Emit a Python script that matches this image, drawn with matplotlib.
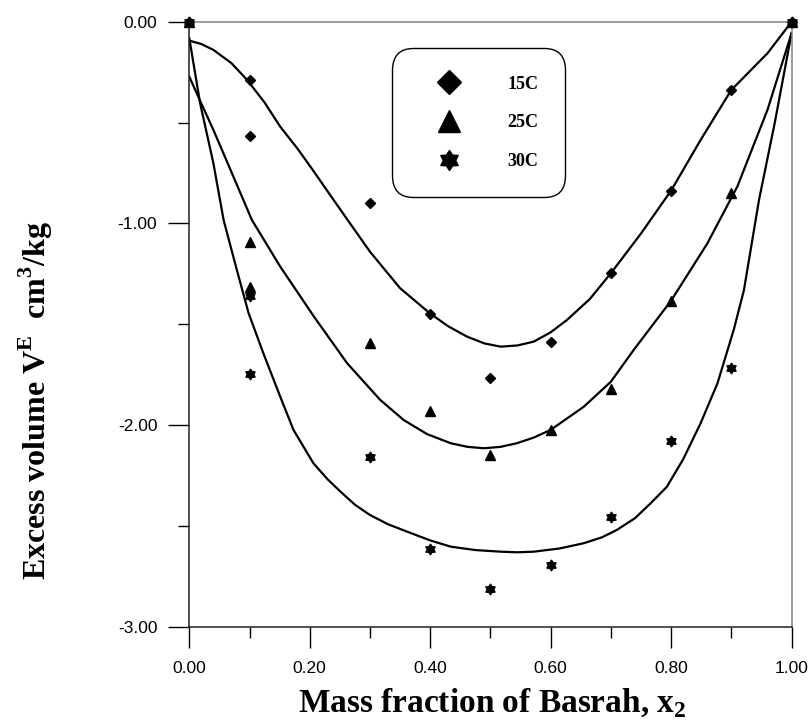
import numpy as np
import matplotlib
matplotlib.use("Agg")
import matplotlib.pyplot as plt
from matplotlib.path import Path
from matplotlib.lines import Line2D

plt.rcParams['mathtext.fontset'] = 'custom'
plt.rcParams['mathtext.rm'] = 'Liberation Serif:bold'
plt.rcParams['mathtext.bf'] = 'Liberation Serif:bold'

# ---- measured points ----
x_pts = [0.0, 0.1, 0.1, 0.3, 0.4, 0.5, 0.6, 0.7, 0.8, 0.9, 1.0]
v15 = [0.0, -0.290, -0.567, -0.897, -1.447, -1.766, -1.588, -1.247, -0.837, -0.338, 0.0]
v25 = [0.0, -1.093, -1.313, -1.594, -1.930, -2.148, -2.024, -1.822, -1.383, -0.850, 0.0]
v30 = [0.0, -1.360, -1.747, -2.157, -2.615, -2.814, -2.695, -2.456, -2.077, -1.717, 0.0]

# ---- fitted curves ----
fx15 = [0.0, 0.02, 0.04, 0.07, 0.096, 0.125, 0.151, 0.180, 0.207, 0.233, 0.259, 0.300,
        0.350, 0.400, 0.430, 0.461, 0.490, 0.517, 0.545, 0.572, 0.600, 0.627, 0.665,
        0.700, 0.750, 0.800, 0.849, 0.900, 0.960, 1.0]
fy15 = [-0.093, -0.110, -0.139, -0.205, -0.288, -0.400, -0.520, -0.630, -0.743, -0.855,
        -0.966, -1.140, -1.321, -1.447, -1.510, -1.561, -1.595, -1.611, -1.605, -1.586,
        -1.540, -1.479, -1.375, -1.247, -1.050, -0.837, -0.586, -0.338, -0.156, 0.0]

fx25 = [0.0, 0.02, 0.04, 0.07, 0.104, 0.151, 0.207, 0.262, 0.317, 0.356, 0.395, 0.434,
        0.462, 0.489, 0.517, 0.544, 0.572, 0.600, 0.655, 0.700, 0.738, 0.800, 0.860,
        0.910, 0.960, 1.0]
fy25 = [-0.272, -0.405, -0.536, -0.745, -0.983, -1.214, -1.462, -1.693, -1.875, -1.975,
        -2.045, -2.090, -2.108, -2.115, -2.108, -2.090, -2.062, -2.024, -1.909, -1.785,
        -1.627, -1.383, -1.100, -0.817, -0.437, -0.057]

fx30 = [0.0, 0.018, 0.040, 0.057, 0.079, 0.0985, 0.123, 0.151, 0.173, 0.206, 0.230,
        0.251, 0.275, 0.300, 0.330, 0.362, 0.400, 0.434, 0.475, 0.517, 0.545, 0.572,
        0.615, 0.655, 0.685, 0.710, 0.740, 0.766, 0.793, 0.820, 0.849, 0.877,
        0.904, 0.921, 0.946, 0.972, 1.0]
fy30 = [-0.081, -0.404, -0.701, -0.983, -1.231, -1.445, -1.644, -1.859, -2.024, -2.189,
        -2.270, -2.330, -2.395, -2.446, -2.492, -2.529, -2.572, -2.603, -2.620, -2.628,
        -2.631, -2.628, -2.612, -2.586, -2.557, -2.520, -2.462, -2.388, -2.306, -2.170,
        -1.991, -1.793, -1.528, -1.330, -0.883, -0.503, -0.057]

labels = ['15C', '25C', '30C']
x_ticks = [0.0, 0.2, 0.4, 0.6, 0.8, 1.0]
y_ticks = [-3.0, -2.0, -1.0, 0.0]

# hexagram marker
ang_o = np.deg2rad(90 + 60 * np.arange(6))
ang_i = ang_o + np.deg2rad(30)
r_in = 0.62
verts = []
for ao, ai in zip(ang_o, ang_i):
    verts.append((np.cos(ao), np.sin(ao)))
    verts.append((r_in * np.cos(ai), r_in * np.sin(ai)))
verts.append(verts[0])
hexstar = Path(verts, closed=True)

fig = plt.figure(figsize=(8.11, 7.26), dpi=100)
ax = fig.add_axes([0.2334, 0.1368, 0.7426, 0.8331])

for fx, fy in [(fx15, fy15), (fx25, fy25), (fx30, fy30)]:
    ax.plot(fx, fy, color='black', lw=1.6, zorder=2, solid_joinstyle='round')

ax.plot(x_pts, v15, ls='none', marker='D', ms=5.4, color='black', zorder=3, clip_on=False)
ax.plot(x_pts, v25, ls='none', marker='^', ms=7.0, color='black', zorder=3, clip_on=False)
ax.plot(x_pts, v30, ls='none', marker=hexstar, ms=7.6, color='black', zorder=3, clip_on=False)

ax.set_xlim(0, 1)
ax.set_ylim(-3, 0)
ax.set_xticks(x_ticks)
ax.set_xticklabels([f"{v:.2f}" for v in x_ticks])
ax.set_xticks([0.1, 0.3, 0.5, 0.7, 0.9], minor=True)
ax.set_yticks(y_ticks)
ax.set_yticklabels([f"{v:.2f}" for v in y_ticks])
ax.set_yticks([-2.5, -1.5, -0.5], minor=True)

for lab in ax.get_xticklabels() + ax.get_yticklabels():
    lab.set_fontfamily('Liberation Sans')
    lab.set_fontsize(12.5)

ax.tick_params(which='major', direction='out', length=15, width=1, pad=8)
ax.tick_params(axis='x', which='major', pad=10)
ax.tick_params(which='minor', direction='out', length=8, width=1)

ax.spines['left'].set_color('#202020')
ax.spines['bottom'].set_color('#202020')
ax.spines['top'].set_color('#808080')
ax.spines['right'].set_color('#808080')
for s in ax.spines.values():
    s.set_linewidth(1.1)

fig.text(0.607, 0.031, r'Mass fraction of Basrah, x$_{\mathrm{2}}$',
         ha='center', va='center', fontfamily='Liberation Serif', fontweight='bold', fontsize=24)
fig.text(0.044, 0.449, r'Excess volume V$^{\mathrm{E}}$  cm$^{\mathrm{3}}$/kg',
         ha='center', va='center', rotation=90,
         fontfamily='Liberation Serif', fontweight='bold', fontsize=23)

handles = [
    Line2D([], [], ls='none', marker='D', ms=11.9, color='black'),
    Line2D([], [], ls='none', marker='^', ms=15.6, color='black'),
    Line2D([], [], ls='none', marker=hexstar, ms=14.4, color='black'),
]
leg = ax.legend(handles, labels, loc='upper left', bbox_to_anchor=(0.336, 0.956),
                borderaxespad=0, numpoints=1, handlelength=3.4, handletextpad=1.5,
                labelspacing=1.2, borderpad=1.5, fancybox=True, framealpha=1,
                prop={'family': 'Liberation Serif', 'weight': 'bold', 'size': 13})
leg.get_frame().set_edgecolor('black')
leg.get_frame().set_linewidth(1.0)
leg.get_frame().set_boxstyle('round', pad=0, rounding_size=1.2)

fig.savefig('out.png', dpi=100)
